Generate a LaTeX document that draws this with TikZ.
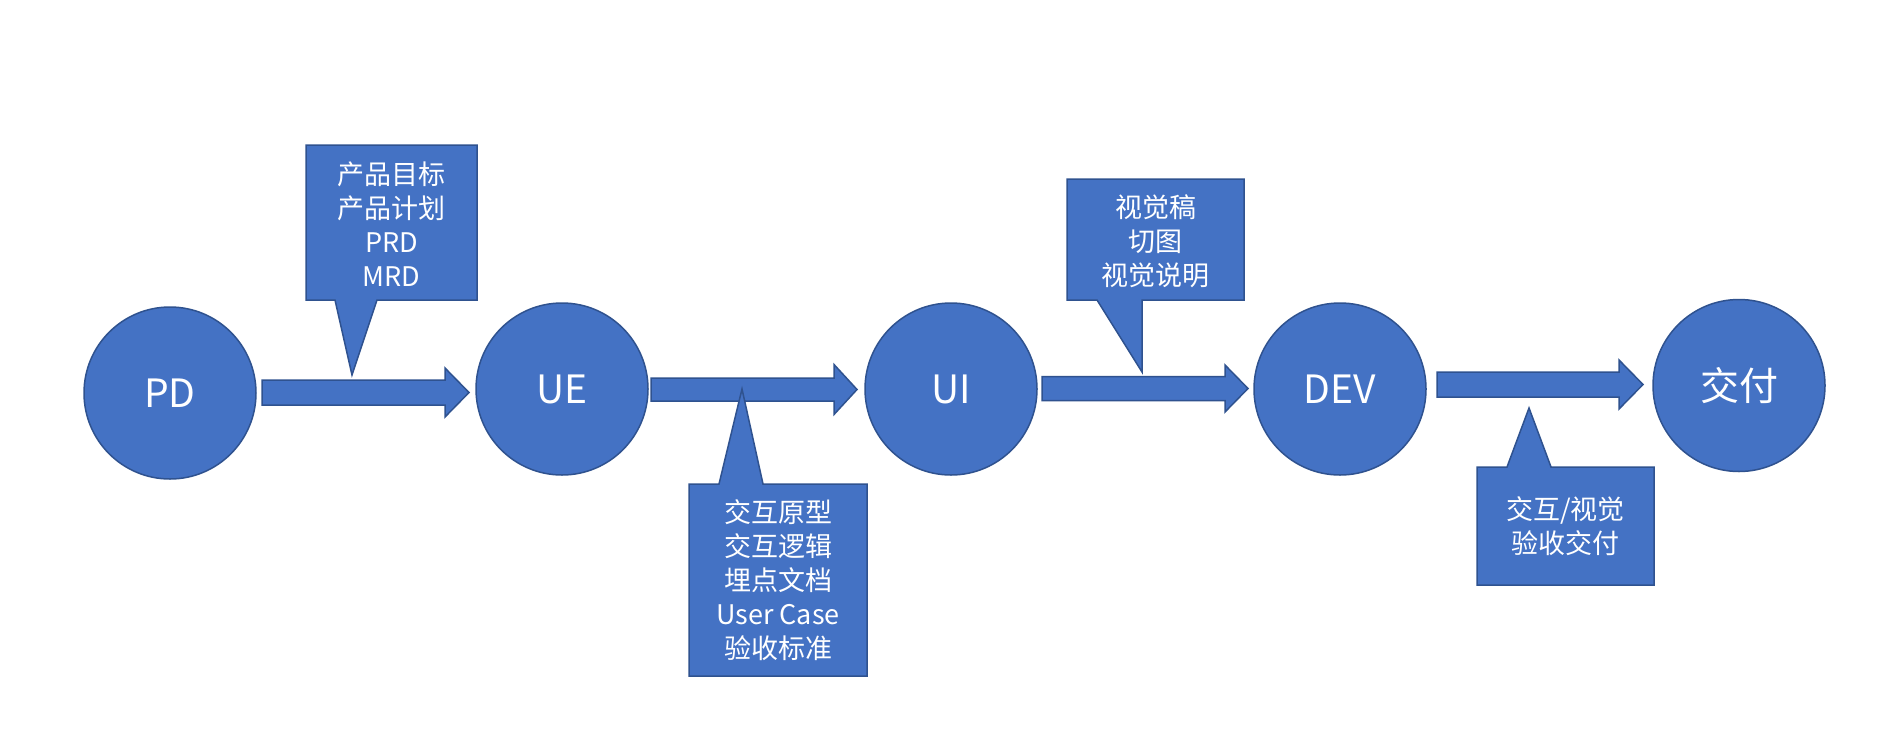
\documentclass[tikz,border=0pt]{standalone}
\usepackage{fontspec}
\setmainfont{Noto Sans CJK SC}
\definecolor{ofill}{HTML}{4472C4}
\definecolor{oline}{HTML}{2F528F}
\tikzset{
  stage/.style={circle, fill=ofill, draw=oline, line width=1.5pt, minimum size=172pt, inner sep=0pt, text=white, font=\fontsize{39}{44}\selectfont},
  shapefill/.style={fill=ofill, draw=oline, line width=1.5pt, line join=miter},
  calltext/.style={text=white, align=center, inner sep=0pt, font=\fontsize{27}{34}\selectfont},
}
\newcommand\blockarrow[7]{% name, x start, x head base, x tip, y mid, body half, head half
  \draw[shapefill] (#2,{#5-#6}) -- (#3,{#5-#6}) -- (#3,{#5-#7}) -- (#4,#5) -- (#3,{#5+#7}) -- (#3,{#5+#6}) -- (#2,{#5+#6}) -- cycle;
  \coordinate (#1) at ({(#2+#4)/2},#5);
}
\begin{document}
\begin{tikzpicture}[x=1pt,y=-1pt]
\useasboundingbox[fill=white] (0,0) rectangle (1894,728);
% stages
\node[stage] (pd) at (170,393) {PD};
\node[stage] (ue) at (562,389) {UE};
\node[stage] (ui) at (951,389) {UI};
\node[stage] (dev) at (1340,389) {DEV};
\node[stage] (jf) at (1739,385.5) {交付};
% block arrows
\blockarrow{a1}{262}{445}{469}{392.5}{12.5}{24.5}
\blockarrow{a2}{651}{834}{857}{389.5}{11.5}{25}
\blockarrow{a3}{1042}{1225}{1248}{388.5}{12}{23.5}
\blockarrow{a4}{1437}{1619}{1643}{384.5}{12.5}{24.5}
% callout 1
\draw[shapefill] (306,145) -- (477,145) -- (477,300) -- (377,300) -- (352,375) -- (335,300) -- (306,300) -- cycle;
\node[calltext] (c1) at (391.5,224) {产品目标\\产品计划\\PRD\\MRD};
% callout 2
\draw[shapefill] (689,484) -- (719,484) -- (742,389) -- (763,484) -- (867,484) -- (867,676) -- (689,676) -- cycle;
\node[calltext] (c2) at (778,580.5) {交互原型\\交互逻辑\\埋点文档\\User Case\\验收标准};
% callout 3
\draw[shapefill] (1067,179) -- (1244,179) -- (1244,300) -- (1142,300) -- (1142,372) -- (1097,300) -- (1067,300) -- cycle;
\node[calltext] (c3) at (1155.5,241.5) {视觉稿\\切图\\视觉说明};
% callout 4
\draw[shapefill] (1477,467) -- (1507,467) -- (1529,408) -- (1551,467) -- (1654,467) -- (1654,585) -- (1477,585) -- cycle;
\node[calltext] (c4) at (1565.5,526.5) {交互/视觉\\验收交付};
\end{tikzpicture}
\end{document}
